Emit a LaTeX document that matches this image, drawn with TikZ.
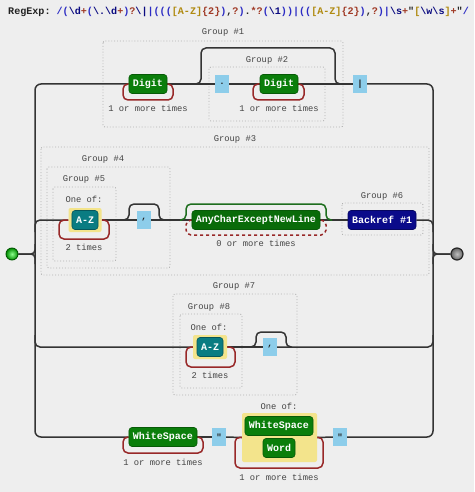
\documentclass[tikz,border=0pt]{standalone}
\usepackage{fontspec}
\setmonofont{Liberation Mono}
\usetikzlibrary{shadings}
\pgfdeclarelayer{bg}
\pgfsetlayers{bg,main}
\definecolor{bgc}{HTML}{EEEEEE}
\definecolor{railc}{HTML}{343434}
\definecolor{termg}{HTML}{0B7E0B}
\definecolor{termgd}{HTML}{075A07}
\definecolor{navyc}{HTML}{0A0A8A}
\definecolor{tealc}{HTML}{0A7C82}
\definecolor{litc}{HTML}{8DCDEA}
\definecolor{yelc}{HTML}{F3E48C}
\definecolor{loopc}{HTML}{982828}
\definecolor{lazyg}{HTML}{1E6E1E}
\definecolor{grpc}{HTML}{B0B0B0}
\definecolor{txtc}{HTML}{444444}
\definecolor{rxgc}{HTML}{2C2CC4}
\definecolor{rxec}{HTML}{0A0A80}
\definecolor{rxqc}{HTML}{A03A26}
\definecolor{rxcc}{HTML}{B08A10}
\definecolor{rxdc}{HTML}{222222}
\newcommand{\rxg}[1]{\textcolor{rxgc}{#1}}
\newcommand{\rxe}[1]{\textcolor{rxec}{#1}}
\newcommand{\rxq}[1]{\textcolor{rxqc}{#1}}
\newcommand{\rxc}[1]{\textcolor{rxcc}{#1}}
\newcommand{\bsl}{\textbackslash}
\tikzset{
  rail/.style={draw=railc, line width=1.5pt},
  loopr/.style={draw=loopc, line width=1.5pt, rounded corners=5pt},
  bypass/.style={draw=railc, line width=1.5pt, rounded corners=5pt},
  grp/.style={draw=grpc, dotted, line width=0.9pt, rounded corners=2pt},
  lbl/.style={text=txtc, font=\ttfamily\fontsize{8.8}{10}\selectfont, inner sep=0pt},
  term/.style={rounded corners=3pt, text=white, font=\ttfamily\bfseries\fontsize{10}{12}\selectfont,
    inner xsep=4pt, inner ysep=0pt, minimum height=19pt, line width=0.6pt},
  gterm/.style={term, fill=termg, draw=termgd},
  bterm/.style={term, fill=navyc, draw=navyc!70!black},
  tterm/.style={term, fill=tealc, draw=tealc!70!black},
  lit/.style={fill=litc, text=rxdc, font=\ttfamily\bfseries\fontsize{9}{10}\selectfont,
    minimum width=13.5pt, minimum height=18pt, inner sep=0pt},
  yel/.style={fill=yelc, rounded corners=2pt, inner sep=0pt},
}
\begin{document}
\begin{tikzpicture}[x=1pt,y=-1pt]
\begin{pgfonlayer}{bg}
\fill[bgc] (0,0) rectangle (474,492);
\end{pgfonlayer}
\useasboundingbox (0,0) rectangle (474,492);

% header
\node[anchor=west, inner sep=0pt, font=\ttfamily\bfseries\fontsize{10.1}{12}\selectfont, text=rxdc] (hdr) at (8,12)
 {RegExp:\ \rxg{/(}\rxe{\bsl d}\rxq{+}\rxg{(}\rxe{\bsl.\bsl d}\rxq{+}\rxg{)}\rxq{?}\rxe{\bsl|}\rxg{|(((}\rxc{[A-Z]}\rxq{\{2\}}\rxg{)},\rxq{?}\rxg{)}.\rxq{*?}\rxg{(}\rxe{\bsl1}\rxg{))|((}\rxc{[A-Z]}\rxq{\{2\}}\rxg{)},\rxq{?}\rxg{)|}\rxe{\bsl s}\rxq{+}"\rxc{[}\rxe{\bsl w\bsl s}\rxc{]}\rxq{+}"\rxg{/}};

% group boxes
\begin{pgfonlayer}{bg}
\draw[grp] (103,41) rectangle (343,127);
\draw[grp] (209,67) rectangle (325,121);
\draw[grp] (41,147) rectangle (429,275);
\draw[grp] (47,167) rectangle (170,268);
\draw[grp] (53,187) rectangle (116,261);
\draw[grp] (342,203) rectangle (423,235);
\draw[grp] (173,294) rectangle (297,395);
\draw[grp] (180,314) rectangle (242,388);
\end{pgfonlayer}

% labels
\node[lbl] (lg1) at (223,32) {Group \#1};
\node[lbl] (lg2) at (267,60) {Group \#2};
\node[lbl] (lg3) at (235,139) {Group \#3};
\node[lbl] (lg4) at (103,159) {Group \#4};
\node[lbl] (lg5) at (84,179) {Group \#5};
\node[lbl] (lg6) at (382,196) {Group \#6};
\node[lbl] (lg7) at (234,286) {Group \#7};
\node[lbl] (lg8) at (209,307) {Group \#8};
\node[lbl] (of5) at (84,199) {One of:};
\node[lbl] (of8) at (209,327) {One of:};
\node[lbl] (of9) at (279,406) {One of:};
\node[lbl] (q1t) at (148,108) {1 or more times};
\node[lbl] (q2t) at (279,108) {1 or more times};
\node[lbl] (q5t) at (84,247) {2 times};
\node[lbl] (qat) at (256,243) {0 or more times};
\node[lbl] (q8t) at (210,375) {2 times};
\node[lbl] (qwt) at (163,462) {1 or more times};
\node[lbl] (q9t) at (279,477) {1 or more times};

% start / end
\node[circle, minimum size=12pt, inner sep=0pt, draw=green!35!black, line width=0.9pt,
  inner color=green!45!white, outer color=green!55!black] (start) at (12,254) {};
\node[circle, minimum size=12pt, inner sep=0pt, draw=black!85, line width=1.2pt,
  inner color=black!25, outer color=black!60] (finish) at (457,254) {};

% row 1
\node[gterm] (d1) at (148,84) {Digit};
\node[lit] (ldot) at (222,84) {.};
\node[gterm] (d2) at (279,84) {Digit};
\node[lit] (lbar) at (360,84) {|};

% row 2
\node[yel, minimum width=33pt, minimum height=24pt] (y5) at (85,220) {};
\node[tterm, minimum width=26pt] (az1) at (85,220) {A-Z};
\node[lit] (lc1) at (144,220) {,};
\node[gterm, fill=termg!85!black] (any) at (256,220) {AnyCharExceptNewLine};
\node[bterm] (br) at (382,220) {Backref \#1};

% row 3
\node[yel, minimum width=34pt, minimum height=24pt] (y8) at (210,347) {};
\node[tterm, minimum width=26pt] (az2) at (210,347) {A-Z};
\node[lit] (lc2) at (270,347) {,};

% row 4
\node[gterm] (ws1) at (163,437) {WhiteSpace};
\node[lit] (lq1) at (219,437) {"};
\node[yel, minimum width=75pt, minimum height=49pt] (y9) at (279.5,437.5) {};
\node[gterm] (ws2) at (279,426) {WhiteSpace};
\node[gterm] (wd) at (279,448) {Word};
\node[lit] (lq2) at (340,437) {"};

\begin{pgfonlayer}{bg}
% buses
\draw[rail, rounded corners=6pt] (d1.west) -- (35,84) -- (35,437) -- (ws1.west);
\draw[rail, rounded corners=6pt] (lbar.east) -- (433,84) -- (433,437) -- (lq2.east);
\draw[rail, rounded corners=4pt] (start.east) -| (35,244);
\draw[rail, rounded corners=4pt] (start.east) -| (35,264);
\draw[rail, rounded corners=4pt] (finish.west) -| (433,244);
\draw[rail, rounded corners=4pt] (finish.west) -| (433,264);
\draw[rail, rounded corners=5pt] (35,232) |- (y5.west);
\draw[rail, rounded corners=5pt] (br.east) -| (433,232);
\draw[rail, rounded corners=5pt] (35,335) |- (y8.west);
\draw[rail, rounded corners=5pt] (lc2.east) -| (433,335);
% row 1
\draw[rail] (d1.east) -- (ldot.west);
\draw[rail] (ldot.east) -- (d2.west);
\draw[rail] (d2.east) -- (lbar.west);
\draw[bypass] (195,84) -- (201,84) -- (201,48) -- (335,48) -- (335,84) -- (341,84);
\draw[loopr] (d1.west) -- (123,84) -- (123,100) -- (173,100) -- (173,84) -- (d1.east);
\draw[loopr] (d2.west) -- (253,84) -- (253,100) -- (304,100) -- (304,84) -- (d2.east);
% row 2
\draw[rail] (y5.east) -- (lc1.west);
\draw[rail] (lc1.east) -- (any.west);
\draw[rail] (any.east) -- (br.west);
\draw[bypass] (123,220) -- (129,220) -- (129,204) -- (159,204) -- (159,220) -- (165,220);
\draw[bypass, draw=lazyg] (180,220) -- (186,220) -- (186,204) -- (326,204) -- (326,220) -- (332,220);
\draw[loopr, dashed] (any.west) -- (186,220) -- (186,235) -- (326,235) -- (326,220) -- (any.east);
\draw[loopr] (y5.west) -- (59,220) -- (59,239) -- (109,239) -- (109,220) -- (y5.east);
% row 3
\draw[rail] (y8.east) -- (lc2.west);
\draw[bypass] (250,347) -- (256,347) -- (256,332) -- (286,332) -- (286,347) -- (292,347);
\draw[loopr] (y8.west) -- (186,347) -- (186,367) -- (235,367) -- (235,347) -- (y8.east);
% row 4
\draw[rail] (ws1.east) -- (lq1.west);
\draw[rail] (lq1.east) -- (y9.west);
\draw[rail] (y9.east) -- (lq2.west);
\draw[loopr] (ws1.west) -- (123,437) -- (123,453) -- (203,453) -- (203,437) -- (ws1.east);
\draw[loopr] (y9.west) -- (235,437) -- (235,468) -- (323,468) -- (323,437) -- (y9.east);
\end{pgfonlayer}
\end{tikzpicture}
\end{document}
